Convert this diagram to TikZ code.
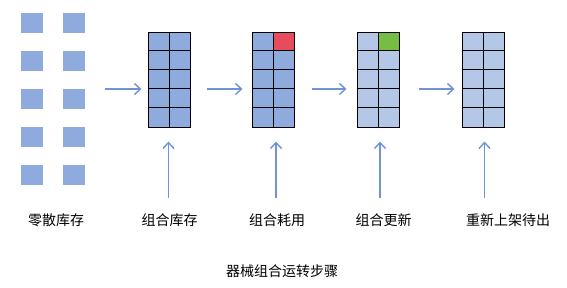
\documentclass[tikz,border=0pt]{standalone}
\usepackage{fontspec}
\setmainfont{Noto Sans CJK SC}
\usetikzlibrary{arrows.meta,positioning}
\definecolor{blk}{HTML}{8FAADC}
\definecolor{lblk}{HTML}{B4C7E7}
\definecolor{usedc}{HTML}{E64C5B}
\definecolor{newc}{HTML}{76BD43}
\definecolor{arrc}{HTML}{6F93D6}

\begin{document}
\begin{tikzpicture}[
	x=1pt, y=-1pt,
	font=\fontsize{14}{16}\selectfont,
	>={Straight Barb[length=6pt,width=11pt]},
	sq/.style={rectangle, fill=blk, minimum width=22pt, minimum height=20pt, inner sep=0pt},
	grid/.style={rectangle, draw=black, line width=1pt, minimum width=42pt, minimum height=95pt, inner sep=0pt},
	lab/.style={inner sep=0pt},
	arr/.style={->, line width=1.4pt, arrc},
]
\useasboundingbox (0,0) rectangle (567,287);
% Scattered items
\foreach \r in {0,...,4} {
	\node[sq] (sa\r) at (32,23+38*\r) {};
	\node[sq] (sb\r) at (74,23+38*\r) {};
}
\coordinate (s0) at (86,89);
% Combination grids
\node[grid, fill=blk] (g1) at (169,79.5) {};
\node[grid, fill=blk] (g2) at (273,79.5) {};
\node[grid, fill=lblk] (g3) at (378,79.5) {};
\node[grid, fill=lblk] (g4) at (483,79.5) {};
\fill[usedc] (g2.north) rectangle ++(21,19);
\fill[newc] (g3.north) rectangle ++(21,19);
\foreach \g in {g1,g2,g3,g4} {
	\draw[line width=1pt] (\g.north) -- (\g.south);
	\foreach \k in {1,...,4}
		\draw[line width=1pt] ([yshift=-19*\k]\g.north west) -- ([yshift=-19*\k]\g.north east);
	\node[grid] at (\g) {};
}
% Horizontal arrows
\draw[arr, shorten <=19pt, shorten >=6pt] (s0) -- (g1.west |- s0);
\draw[arr, shorten <=16pt, shorten >=9pt] (g1.east |- s0) -- (g2.west |- s0);
\draw[arr, shorten <=17pt, shorten >=10pt] (g2.east |- s0) -- (g3.west |- s0);
\draw[arr, shorten <=19pt, shorten >=7pt] (g3.east |- s0) -- (g4.west |- s0);
% Labels
\node[lab] (l0) at (56,220) {零散库存};
\node[lab] (l1) at (169.5,220) {组合库存};
\node[lab] (l2) at (277,220) {组合耗用};
\node[lab] (l3) at (383.5,220) {组合更新};
\node[lab] (l4) at (508,220) {重新上架待出};
\node[lab] (title) at (282,271) {器械组合运转步骤};
% Vertical arrows
\coordinate (b1) at (168.5,198);
\coordinate (b2) at (276,198);
\coordinate (b3) at (380,198);
\coordinate (b4) at (484.5,198);
\foreach \i in {1,...,4}
	\draw[arr, shorten >=14pt] (b\i) -- (b\i |- g\i.south);
\end{tikzpicture}
\end{document}
